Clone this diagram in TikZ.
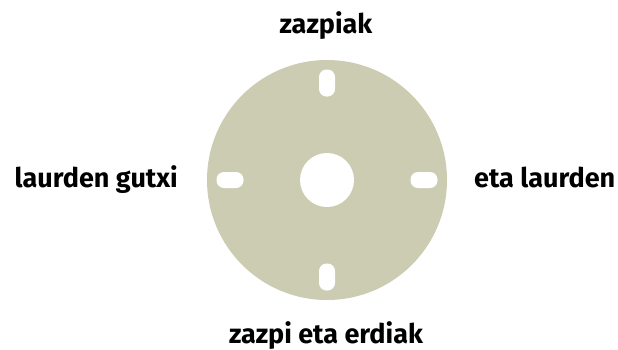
\documentclass[tikz,border=0pt]{standalone}
\usepackage{fontspec}
\setmainfont{Fira Sans}
\definecolor{disccol}{RGB}{204,204,179}
\tikzset{
  label/.style={font=\fontsize{27}{29}\selectfont\bfseries, inner sep=0pt},
  slot/.style={fill=white, rounded corners=7.5pt, inner sep=0pt},
}
\begin{document}
\begin{tikzpicture}[x=1pt,y=-1pt]
\useasboundingbox (0,0) rectangle (618,349);
% dial
\node[circle, fill=disccol, minimum size=240pt, inner sep=0pt] (disc) at (327,180) {};
\node[circle, fill=white, minimum size=54pt, inner sep=0pt] (hub) at (disc.center) {};
\node[slot, minimum width=16pt, minimum height=27pt] (s12) at (327,83) {};
\node[slot, minimum width=16pt, minimum height=27pt] (s6) at (327,277) {};
\node[slot, minimum width=27pt, minimum height=16pt] (s9) at (230,180) {};
\node[slot, minimum width=27pt, minimum height=16pt] (s3) at (424,180) {};
% texts
\node[label, anchor=base] (top) at (326,33) {zazpiak};
\node[label, anchor=base] (bottom) at (326,343) {zazpi eta erdiak};
\node[label, anchor=base east] (left) at (178,187) {laurden gutxi};
\node[label, anchor=base west] (right) at (474,187) {eta laurden};
\end{tikzpicture}
\end{document}
